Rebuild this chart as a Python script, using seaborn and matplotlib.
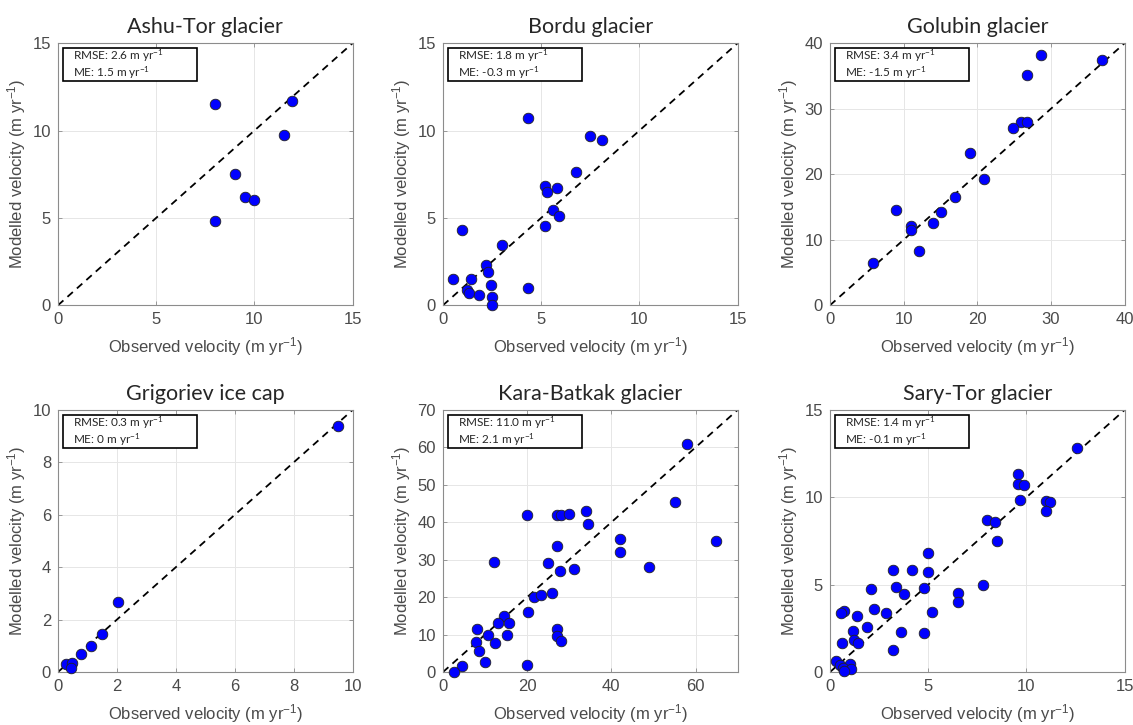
import numpy as np
import pandas as pd
import matplotlib
matplotlib.use("Agg")
import matplotlib.pyplot as plt
import seaborn as sns
from matplotlib.patches import Rectangle

sns.set_style("whitegrid")
plt.rcParams['font.family'] = ['Liberation Sans', 'DejaVu Sans']
plt.rcParams['mathtext.default'] = 'regular'

# 各氷河のデータ（観測速度 / モデル速度, m yr-1）
ashu_obs = [8.0, 11.9, 11.5, 9.0, 9.5, 10.0, 8.0]
ashu_mod = [11.5, 11.7, 9.75, 7.5, 6.2, 6.0, 4.8]

bordu_obs = [4.33, 7.47, 8.12, 6.77, 5.19, 5.29, 5.78, 5.59, 5.9, 5.19, 0.95, 3.0,
             2.21, 2.31, 0.52, 1.42, 2.42, 1.23, 1.33, 1.84, 2.5, 2.5, 4.31]
bordu_mod = [10.7, 9.69, 9.46, 7.6, 6.85, 6.5, 6.73, 5.48, 5.08, 4.56, 4.33, 3.42,
             2.29, 1.9, 1.52, 1.52, 1.17, 0.9, 0.71, 0.6, 0.48, 0.0, 0.96]

golubin_obs = [28.6, 36.9, 26.8, 25.9, 26.8, 24.9, 18.95, 20.9, 16.95, 15.0, 13.95,
               8.9, 11.0, 11.0, 12.05, 5.8]
golubin_mod = [38.2, 37.4, 35.2, 28.0, 28.0, 27.0, 23.2, 19.3, 16.5, 14.2, 12.5,
               14.5, 12.1, 11.5, 8.25, 6.4]

grig_obs = [9.49, 2.02, 1.5, 1.13, 0.79, 0.26, 0.48, 0.43]
grig_mod = [9.4, 2.67, 1.46, 0.98, 0.67, 0.29, 0.34, 0.17]

kara_obs = [20.0, 27.0, 28.0, 30.0, 33.9, 34.4, 27.0, 12.1, 25.0, 27.9, 31.1, 21.7,
            23.3, 26.0, 20.2, 14.5, 13.1, 15.6, 8.1, 10.6, 15.3, 12.4, 7.8, 8.6,
            10.0, 27.0, 27.0, 28.0, 20.0, 4.6, 2.5, 58.0, 55.1, 42.1, 42.1, 64.9, 49.0]
kara_mod = [42.0, 42.0, 41.9, 42.3, 43.0, 39.5, 33.6, 29.5, 29.1, 27.1, 27.5, 20.1,
            20.7, 21.1, 16.0, 14.9, 13.0, 13.0, 11.6, 10.0, 10.0, 7.7, 7.9, 5.5,
            2.8, 11.6, 9.7, 8.4, 1.9, 1.6, 0.1, 61.0, 45.5, 35.6, 32.1, 35.0, 28.1]

sary_obs = [5.0, 3.21, 4.18, 4.98, 2.1, 3.38, 3.79, 4.8, 6.5, 6.5, 0.7, 0.58, 1.38,
            2.22, 2.87, 5.19, 1.88, 1.19, 3.6, 4.78, 0.6, 1.23, 1.4, 3.19, 0.29, 0.51,
            1.0, 0.68, 1.08, 0.73, 12.6, 9.59, 9.59, 9.9, 9.69, 10.99, 11.21, 10.99,
            7.99, 8.4, 8.5, 7.78]
sary_mod = [6.84, 5.86, 5.86, 5.72, 4.75, 4.85, 4.45, 4.81, 4.54, 3.99, 3.5, 3.35, 3.23,
            3.59, 3.35, 3.42, 2.6, 2.32, 2.3, 2.24, 1.65, 1.81, 1.65, 1.24, 0.65, 0.4,
            0.46, 0.21, 0.15, 0.08, 12.8, 11.35, 10.76, 10.68, 9.87, 9.79, 9.75, 9.24,
            8.73, 8.59, 7.49, 4.96]

titles = ["Ashu-Tor glacier", "Bordu glacier", "Golubin glacier",
          "Grigoriev ice cap", "Kara-Batkak glacier", "Sary-Tor glacier"]
rmse_vals = ["2.6", "1.8", "3.4", "0.3", "11.0", "1.4"]
me_vals = ["1.5", "-0.3", "-1.5", "0", "2.1", "-0.1"]
limits = [15, 15, 40, 10, 70, 15]
xtick_sets = [[0, 5, 10, 15], [0, 5, 10, 15], [0, 10, 20, 30, 40],
              [0, 2, 4, 6, 8, 10], [0, 20, 40, 60], [0, 5, 10, 15]]
ytick_sets = [[0, 5, 10, 15], [0, 5, 10, 15], [0, 10, 20, 30, 40],
              [0, 2, 4, 6, 8, 10], [0, 10, 20, 30, 40, 50, 60, 70], [0, 5, 10, 15]]

obs_list = [ashu_obs, bordu_obs, golubin_obs, grig_obs, kara_obs, sary_obs]
mod_list = [ashu_mod, bordu_mod, golubin_mod, grig_mod, kara_mod, sary_mod]

title_font = ['Lato', 'DejaVu Sans']
label_color = '#4a4a4a'


def draw_panel(ax, obs, mod, title, rmse, me, lim, xticks, yticks):
    """1パネルを描画"""
    df = pd.DataFrame({'obs': obs, 'mod': mod})
    ax.axline((0, 0), slope=1, color='black', linestyle=(0, (4, 3)),
              linewidth=1.3, zorder=2)
    sns.scatterplot(data=df, x='obs', y='mod', ax=ax, color='#0000ff',
                    edgecolor='#222222', linewidth=0.6, s=58, zorder=3,
                    clip_on=False, legend=False)
    ax.set_xlim(0, lim)
    ax.set_ylim(0, lim)
    ax.set_xticks(xticks)
    ax.set_yticks(yticks)
    ax.grid(True, color='#e6e6e6', linewidth=0.7)
    for sp in ax.spines.values():
        sp.set_color('#8c8c8c')
        sp.set_linewidth(0.8)
    ax.tick_params(direction='in', length=3, width=0.6, color='#8c8c8c',
                   top=True, right=True, bottom=True, left=True,
                   labelsize=12, labelcolor=label_color, pad=5)
    ax.set_title(title, fontsize=15.5, family=title_font, pad=7)
    ax.set_xlabel(r"Observed velocity (m yr$^{-1}$)", fontsize=12,
                  color=label_color, labelpad=6)
    ax.set_ylabel(r"Modelled velocity (m yr$^{-1}$)", fontsize=12,
                  color=label_color, labelpad=3)
    # RMSE / ME の枠
    ax.add_patch(Rectangle((0.018, 0.856), 0.455, 0.125, transform=ax.transAxes,
                           facecolor='white', edgecolor='black', linewidth=1.2,
                           zorder=5, clip_on=False))
    ax.text(0.052, 0.951, f"RMSE: {rmse} m yr$^{{-1}}$", transform=ax.transAxes,
            fontsize=8.5, family=title_font, va='center', zorder=6)
    ax.text(0.052, 0.886, f"ME: {me} m yr$^{{-1}}$", transform=ax.transAxes,
            fontsize=8.5, family=title_font, va='center', zorder=6)


def main():
    fig = plt.figure(figsize=(11.33, 7.25), dpi=100)
    lefts = [0.0512, 0.391, 0.7326]
    bottoms = [0.579, 0.0731]
    for i in range(6):
        ax = fig.add_axes([lefts[i % 3], bottoms[i // 3], 0.26, 0.3614])
        draw_panel(ax, obs_list[i], mod_list[i], titles[i], rmse_vals[i],
                   me_vals[i], limits[i], xtick_sets[i], ytick_sets[i])
    fig.savefig("out.png", dpi=100)
    plt.close(fig)


if __name__ == "__main__":
    main()
